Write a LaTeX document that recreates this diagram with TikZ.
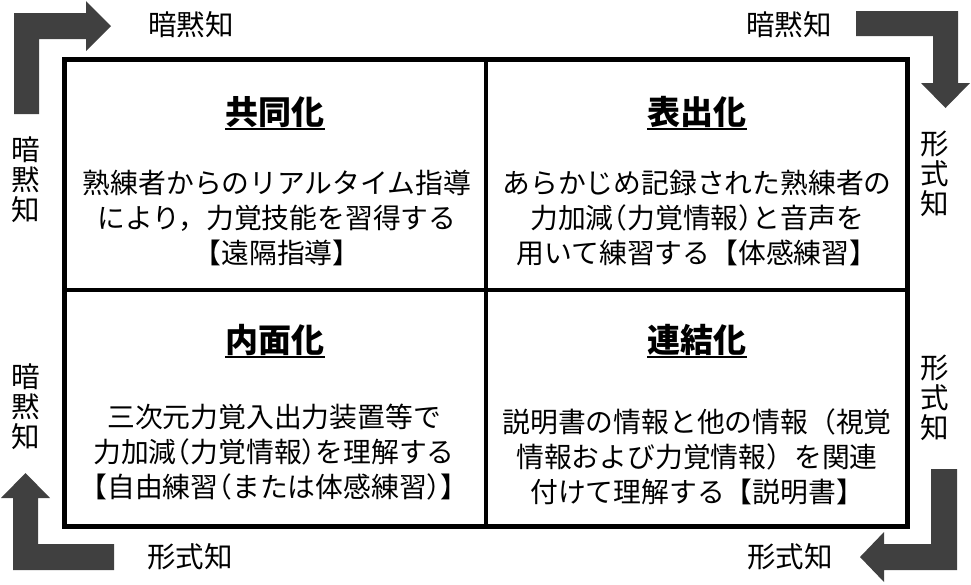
\documentclass[tikz,border=0pt]{standalone}
\usepackage{fontspec}
\setmainfont{Noto Sans CJK JP}
\newfontfamily\halfpunct[RawFeature=+halt]{Noto Sans CJK JP}
\definecolor{arrowgray}{RGB}{64,64,64}
\newcommand{\hp}[1]{{\halfpunct #1}}
\tikzset{
  heading/.style={font=\fontsize{33}{36}\selectfont\bfseries, inner sep=0pt},
  body/.style={font=\fontsize{27.8}{35}\selectfont, align=center, inner sep=0pt},
  side/.style={font=\fontsize{28.5}{30}\selectfont, align=center, inner sep=0pt},
  turnarrow/.style={fill=arrowgray, draw=none}
}
\begin{document}
\begin{tikzpicture}[x=1pt,y=-1pt]
      \useasboundingbox (0,0) rectangle (971,584);
      % frame of the four quadrants
      \coordinate (nw) at (64.5,59.5);
      \coordinate (se) at (907.5,526);
      \coordinate (n) at (486,59.5);
      \coordinate (s) at (486,526);
      \coordinate (w) at (64.5,290);
      \coordinate (e) at (907.5,290);
      \draw[line width=5pt] (nw) rectangle (se);
      \draw[line width=4pt] (n) -- (s);
      \draw[line width=4pt] (w) -- (e);
      % quadrant headings
      \draw
        (275,112) node[heading] (h1){共同化}
        (697,112) node[heading] (h2){表出化}
        (275,340) node[heading] (h3){内面化}
        (697,340) node[heading] (h4){連結化};
      \begin{scope}[line width=1.8pt]
        \draw ([yshift=-1pt]h1.south west) -- ([yshift=-1pt]h1.south east);
        \draw ([yshift=-1pt]h2.south west) -- ([yshift=-1pt]h2.south east);
        \draw ([yshift=-1pt]h3.south west) -- ([yshift=-1pt]h3.south east);
        \draw ([yshift=-1pt]h4.south west) -- ([yshift=-1pt]h4.south east);
      \end{scope}
      % quadrant texts
      \draw
        (277,218) node[body] (b1){熟練者からのリアルタイム指導\\により，力覚技能を習得する\\【遠隔指導】}
        (697,218) node[body] (b2){あらかじめ記録された熟練者の\\力加減\hp{（}力覚情報\hp{）}と音声を\\用いて練習する【体感練習】}
        (274,452) node[body] (b3){三次元力覚入出力装置等で\\力加減\hp{（}力覚情報\hp{）}を理解する\\【自由練習\hp{（}または体感練習\hp{）}】}
        (697,457) node[body] (b4){説明書の情報と他の情報（視覚\\情報および力覚情報）を関連\\付けて理解する【説明書】};
      % labels round the frame
      \draw
        (191,25) node[side] (l1){暗黙知}
        (789,25) node[side] (l2){暗黙知}
        (26,180) node[side] (l3){暗\\黙\\知}
        (935,174) node[side] (l4){形\\式\\知}
        (26,407) node[side] (l5){暗\\黙\\知}
        (935,398) node[side] (l6){形\\式\\知}
        (190,557) node[side] (l7){形式知}
        (790,557) node[side] (l8){形式知};
      % corner arrows
      \fill[turnarrow] (14,114) -- (39,114) -- (39,39) -- (86,39) -- (86,51)
        -- (111,26) -- (86,1) -- (86,13) -- (14,13) -- cycle;
      \fill[turnarrow] (856,11) -- (958,11) -- (958,83) -- (970,83)
        -- (945.5,108) -- (921,83) -- (933,83) -- (933,36) -- (856,36) -- cycle;
      \fill[turnarrow] (114,544) -- (114,570) -- (13,570) -- (13,498) -- (1,498)
        -- (25.5,473) -- (50,498) -- (38,498) -- (38,544) -- cycle;
      \fill[turnarrow] (931,469) -- (957,469) -- (957,570) -- (884,570) -- (884,582)
        -- (860,557) -- (884,532) -- (884,544) -- (931,544) -- cycle;
    \end{tikzpicture}
\end{document}
